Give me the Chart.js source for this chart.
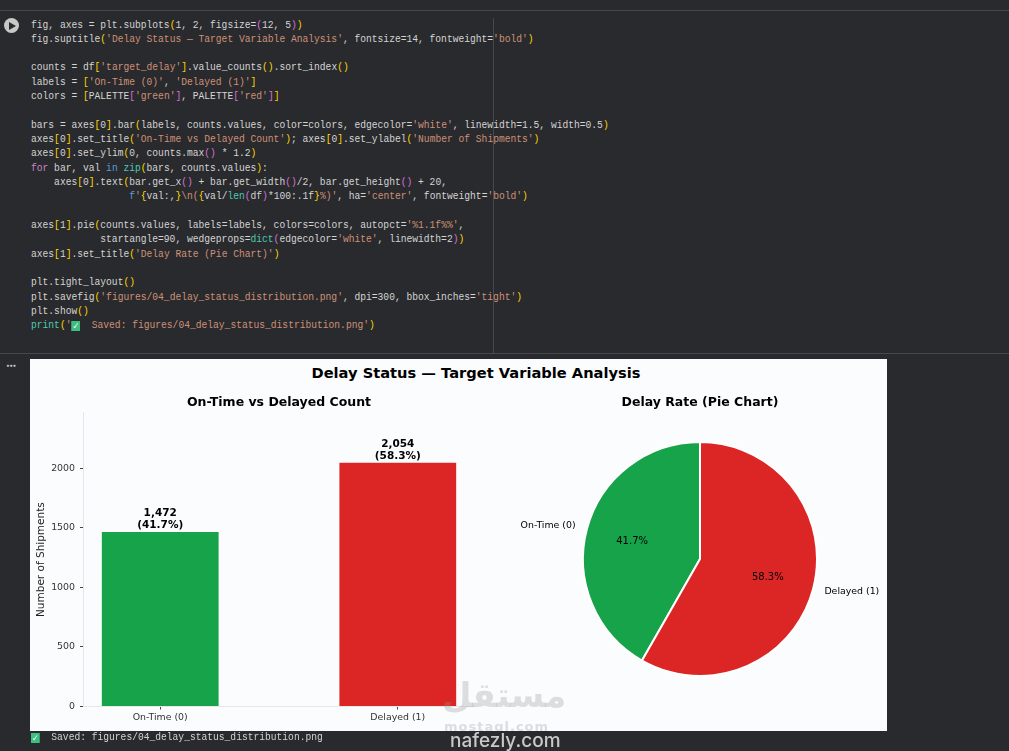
<!DOCTYPE html>
<html>
<head>
<meta charset="utf-8">
<script src="https://cdn.jsdelivr.net/npm/chart.js@4"></script>
<style>
  html, body { margin: 0; padding: 0; background: #292a2d; width: 1009px; height: 751px; overflow: hidden; }
  .rule { position: absolute; background: #47484b; }
  #code { position: absolute; left: 31px; top: 17.5px; margin: 0; font: 11px/14.33px "Liberation Mono", monospace; color: #d4d4d4; transform: scaleX(.875); transform-origin: 0 0; white-space: pre; }
  .s { color: #ce9178; } .n { color: #b5cea8; } .b { color: #ffd700; } .p { color: #da70d6; } .k { color: #c586c0; } .f { color: #4ec9b0; } .v { color: #569cd6; }
  #run { position: absolute; left: 4px; top: 18px; width: 15px; height: 15px; border-radius: 50%; background: #c8c8c8; }
  #run:after { content: ""; position: absolute; left: 5px; top: 3.5px; border-left: 7px solid #292a2d; border-top: 4px solid transparent; border-bottom: 4px solid transparent; }
  #dots { position: absolute; left: 6px; top: 362px; color: #c8c8c8; font: bold 6px/8px "DejaVu Sans"; letter-spacing: -.6px; }
  #figure { position: absolute; left: 30px; top: 359px; width: 857px; height: 372px; background: #fbfcfe; overflow: hidden; }
  #suptitle { position: absolute; left: 0; top: 3px; width: 892px; text-align: center; font: bold 14.65px/22px "DejaVu Sans"; color: #000; }
  canvas { position: absolute; }
  #bar-wrap { position: absolute; left: 0; top: 26px; width: 445px; height: 346px; }
  #pie-wrap { position: absolute; left: 483px; top: 26px; width: 374px; height: 346px; }
  #saved { position: absolute; left: 31px; top: 730px; font: 11px/14px "Liberation Mono", monospace; color: #d4d4d4; transform: scaleX(.875); transform-origin: 0 0; white-space: pre; }
  .tick { display: inline-block; width: 10px; height: 10px; background: #3fbf7f; color: #fff; font: bold 9px/10px "DejaVu Sans"; text-align: center; vertical-align: -1px; }
  #mark { position: absolute; left: 450px; top: 730px; font: 500 19px/22px "Inter", sans-serif; color: #c9c9c9; }
  #mark-ar { position: absolute; left: 412px; top: 314px; font: bold 34px/44px "DejaVu Sans"; color: rgba(150,150,150,.3); }
  #mark-sub { position: absolute; left: 414px; top: 360px; font: bold 13px/16px "DejaVu Sans"; color: rgba(150,150,150,.3); letter-spacing: 1px; }
</style>
</head>
<body>
<div class="rule" style="left:0;top:10px;width:1009px;height:1px"></div>
<div class="rule" style="left:0;top:353px;width:1009px;height:1px"></div>
<div class="rule" style="left:493px;top:18px;width:1px;height:335px"></div>
<div id="run"></div>
<div id="dots">•••</div>
<pre id="code">fig, axes = plt.subplots<span class="b">(</span>1, 2, figsize=<span class="p">(</span>12, 5<span class="p">)</span><span class="b">)</span>
fig.suptitle<span class="b">(</span><span class="s">'Delay Status — Target Variable Analysis'</span>, fontsize=14, fontweight=<span class="s">'bold'</span><span class="b">)</span>

counts = df<span class="b">[</span><span class="s">'target_delay'</span><span class="b">]</span>.value_counts<span class="b">()</span>.sort_index<span class="b">()</span>
labels = <span class="b">[</span><span class="s">'On-Time (0)'</span>, <span class="s">'Delayed (1)'</span><span class="b">]</span>
colors = <span class="b">[</span>PALETTE<span class="p">[</span><span class="s">'green'</span><span class="p">]</span>, PALETTE<span class="p">[</span><span class="s">'red'</span><span class="p">]</span><span class="b">]</span>

bars = axes<span class="b">[</span>0<span class="b">]</span>.bar<span class="b">(</span>labels, counts.values, color=colors, edgecolor=<span class="s">'white'</span>, linewidth=1.5, width=0.5<span class="b">)</span>
axes<span class="b">[</span>0<span class="b">]</span>.set_title<span class="b">(</span><span class="s">'On-Time vs Delayed Count'</span><span class="b">)</span>; axes<span class="b">[</span>0<span class="b">]</span>.set_ylabel<span class="b">(</span><span class="s">'Number of Shipments'</span><span class="b">)</span>
axes<span class="b">[</span>0<span class="b">]</span>.set_ylim<span class="b">(</span>0, counts.max<span class="p">()</span> * 1.2<span class="b">)</span>
<span class="k">for</span> bar, val <span class="v">in</span> <span class="f">zip</span><span class="b">(</span>bars, counts.values<span class="b">)</span>:
    axes<span class="b">[</span>0<span class="b">]</span>.text<span class="b">(</span>bar.get_x<span class="p">()</span> + bar.get_width<span class="p">()</span>/2, bar.get_height<span class="p">()</span> + 20,
                 <span class="v">f</span><span class="s">'</span><span class="b">{</span>val:,<span class="b">}</span><span class="s">\n(</span><span class="b">{</span>val/<span class="f">len</span><span class="p">(</span>df<span class="p">)</span>*100:.1f<span class="b">}</span><span class="s">%)'</span>, ha=<span class="s">'center'</span>, fontweight=<span class="s">'bold'</span><span class="b">)</span>

axes<span class="b">[</span>1<span class="b">]</span>.pie<span class="b">(</span>counts.values, labels=labels, colors=colors, autopct=<span class="s">'%1.1f%%'</span>,
            startangle=90, wedgeprops=<span class="f">dict</span><span class="p">(</span>edgecolor=<span class="s">'white'</span>, linewidth=2<span class="p">)</span><span class="b">)</span>
axes<span class="b">[</span>1<span class="b">]</span>.set_title<span class="b">(</span><span class="s">'Delay Rate (Pie Chart)'</span><span class="b">)</span>

plt.tight_layout<span class="b">()</span>
plt.savefig<span class="b">(</span><span class="s">'figures/04_delay_status_distribution.png'</span>, dpi=300, bbox_inches=<span class="s">'tight'</span><span class="b">)</span>
plt.show<span class="b">()</span>
<span class="f">print</span><span class="b">(</span><span class="s">'<span class="tick">✓</span>  Saved: figures/04_delay_status_distribution.png'</span><span class="b">)</span></pre>

<div id="figure">
  <div id="suptitle">Delay Status — Target Variable Analysis</div>
  <div id="bar-wrap"><canvas id="barChart"></canvas></div>
  <div id="pie-wrap"><canvas id="pieChart"></canvas></div>
  <div id="mark-ar">مستقل</div>
  <div id="mark-sub">mostaql.com</div>
</div>
<div id="saved"><span class="tick">✓</span>  Saved: figures/04_delay_status_distribution.png</div>
<div id="mark">nafezly.com</div>

<script>
const categories = ['On-Time (0)', 'Delayed (1)'];
const counts = [1472, 2054];
const percents = ['41.7%', '58.3%'];
const colors = ['#16a34a', '#dc2626'];
const yTicks = [0, 500, 1000, 1500, 2000];
const yMax = 2464.8;

const FONT = '"DejaVu Sans", sans-serif';

// bold count + share above each bar
const barLabels = {
  id: 'barLabels',
  afterDatasetsDraw(chart) {
    const { ctx } = chart;
    ctx.save();
    ctx.textAlign = 'center';
    ctx.fillStyle = '#000';
    ctx.font = 'bold 10.5px ' + FONT;
    chart.getDatasetMeta(0).data.forEach((bar, i) => {
      ctx.fillText(counts[i].toLocaleString('en-US'), bar.x, bar.y - 15);
      ctx.fillText('(' + percents[i] + ')', bar.x, bar.y - 3);
    });
    ctx.restore();
  },
};

// autopct at 0.6r and category labels at 1.1r, as matplotlib places them
const pieLabels = {
  id: 'pieLabels',
  afterDatasetsDraw(chart) {
    const { ctx } = chart;
    ctx.save();
    ctx.textBaseline = 'middle';
    ctx.fillStyle = '#000';
    chart.getDatasetMeta(0).data.forEach((arc, i) => {
      const mid = (arc.startAngle + arc.endAngle) / 2;
      const cos = Math.cos(mid);
      const sin = Math.sin(mid);
      ctx.font = '10px ' + FONT;
      ctx.textAlign = 'center';
      ctx.fillText(percents[i], arc.x + cos * arc.outerRadius * 0.6, arc.y + sin * arc.outerRadius * 0.6);
      ctx.font = '9.4px ' + FONT;
      ctx.textAlign = cos < 0 ? 'right' : 'left';
      ctx.fillText(categories[i], arc.x + cos * arc.outerRadius * 1.1, arc.y + sin * arc.outerRadius * 1.1);
    });
    ctx.restore();
  },
};

new Chart(document.getElementById('barChart'), {
  type: 'bar',
  data: {
    datasets: [{
      data: counts.map((v, i) => ({ x: i, y: v })),
      backgroundColor: colors,
      borderColor: '#ffffff',
      borderWidth: 1,
      categoryPercentage: 0.5,
      barPercentage: 1,
    }],
  },
  plugins: [barLabels],
  options: {
    responsive: true,
    maintainAspectRatio: false,
    animation: false,
    plugins: {
      legend: { display: false },
      tooltip: { enabled: false },
      title: {
        display: true,
        text: 'On-Time vs Delayed Count',
        fullSize: false,
        color: '#000',
        font: { family: FONT, size: 12.5, weight: 'bold' },
        padding: { top: 10, bottom: 2.7 },
      },
    },
    scales: {
      x: {
        type: 'linear',
        offset: false,
        min: -0.325,
        max: 1.325,
        afterBuildTicks(scale) { scale.ticks = categories.map((c, i) => ({ value: i })); },
        afterFit(scale) { scale.height = 24.5; },
        grid: { offset: false, drawOnChartArea: false, tickLength: 3, tickColor: '#444' },
        border: { color: '#e5e7eb' },
        ticks: {
          color: '#333',
          font: { family: FONT, size: 9.4 },
          maxRotation: 0,
          padding: 2,
          callback: (v) => categories[v],
        },
      },
      y: {
        min: 0,
        max: yMax,
        afterBuildTicks(scale) { scale.ticks = yTicks.map((v) => ({ value: v })); },
        afterFit(scale) { scale.width = 53; },
        grid: { drawOnChartArea: false, tickLength: 3, tickColor: '#444' },
        border: { color: '#e5e7eb' },
        title: {
          display: true,
          text: 'Number of Shipments',
          color: '#222',
          font: { family: FONT, size: 10.5 },
          padding: { top: 5, bottom: 0 },
        },
        ticks: {
          color: '#333',
          font: { family: FONT, size: 9.4 },
          padding: 5,
          callback: (v) => String(v),
        },
      },
    },
  },
});

new Chart(document.getElementById('pieChart'), {
  type: 'pie',
  data: {
    labels: categories,
    datasets: [{
      data: counts,
      backgroundColor: colors,
      borderColor: '#ffffff',
      borderWidth: 2,
    }],
  },
  plugins: [pieLabels],
  options: {
    responsive: true,
    maintainAspectRatio: false,
    animation: false,
    // first wedge ends at twelve o'clock, same as startangle=90 counter-clockwise
    rotation: -360 * counts[0] / (counts[0] + counts[1]),
    layout: { padding: { left: 69, right: 69, top: 10.5, bottom: 41.5 } },
    plugins: {
      legend: { display: false },
      tooltip: { enabled: false },
      title: {
        display: true,
        text: 'Delay Rate (Pie Chart)',
        color: '#000',
        font: { family: FONT, size: 12.5, weight: 'bold' },
        padding: { top: 0, bottom: 18 },
      },
    },
  },
});
</script>
</body>
</html>
